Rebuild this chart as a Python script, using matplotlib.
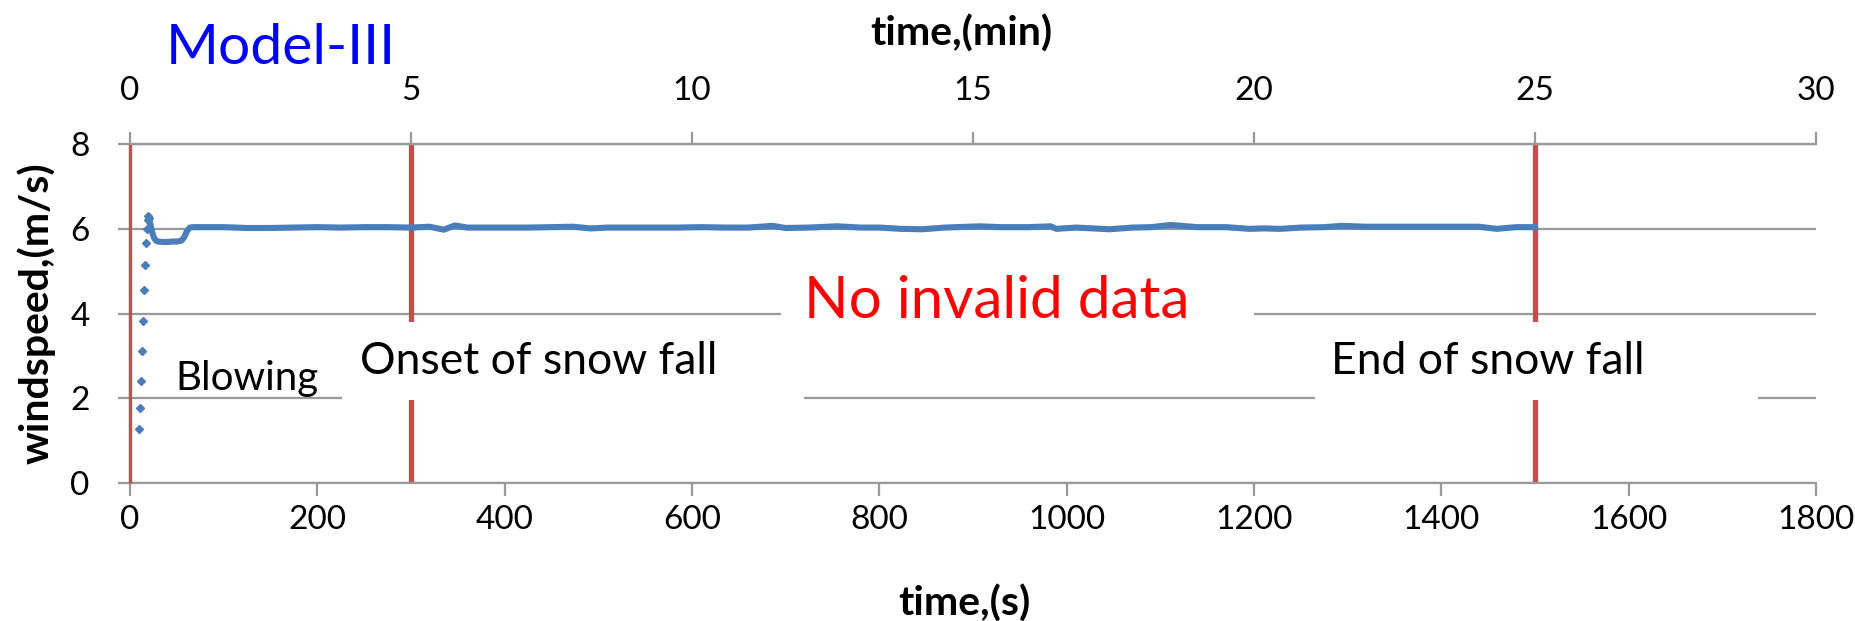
import matplotlib

matplotlib.use("Agg")
import matplotlib.pyplot as plt
from matplotlib.patches import Rectangle

plt.rcParams["font.family"] = ["Lato", "DejaVu Sans"]

# start-up ramp, single readings (s, m/s)
ramp_time = [10, 11, 12, 13, 14, 15, 16, 17, 18, 19, 19.5, 20]
ramp_speed = [1.27, 1.77, 2.41, 3.11, 3.82, 4.55, 5.14, 5.66, 5.99, 6.20, 6.30, 6.25]

# steady run after the ramp
run_time = [20, 22, 24, 26, 28, 30, 35, 40, 45, 50, 55, 58, 61, 64, 68,
            75, 100, 125, 150, 175, 200, 225, 250, 275, 300, 320, 335, 347, 360,
            380, 400, 425, 450, 473, 492, 510, 535, 560, 585, 610, 635, 660, 686,
            700, 725, 755, 780, 800, 823, 846, 870, 907, 930, 960, 983, 989, 1010,
            1046, 1070, 1090, 1111, 1140, 1170, 1195, 1211, 1228, 1250, 1275, 1294,
            1320, 1350, 1380, 1410, 1440, 1459, 1480, 1500]
run_speed = [6.25, 6.10, 5.90, 5.78, 5.72, 5.70, 5.69, 5.69, 5.70, 5.70, 5.72, 5.80, 5.95, 6.03, 6.04,
             6.04, 6.04, 6.02, 6.02, 6.03, 6.04, 6.03, 6.04, 6.04, 6.03, 6.05, 5.98, 6.08, 6.03,
             6.03, 6.03, 6.03, 6.04, 6.05, 6.01, 6.03, 6.03, 6.03, 6.03, 6.04, 6.03, 6.03, 6.07,
             6.02, 6.03, 6.06, 6.03, 6.03, 6.00, 5.99, 6.03, 6.06, 6.04, 6.04, 6.06, 6.00, 6.03,
             5.99, 6.03, 6.04, 6.09, 6.04, 6.04, 6.00, 6.01, 6.00, 6.03, 6.04, 6.07,
             6.05, 6.05, 6.05, 6.05, 6.05, 6.00, 6.04, 6.04]

# event markers (s)
blow_start = 0
snow_events = [300, 1500]

x_ticks = [0, 200, 400, 600, 800, 1000, 1200, 1400, 1600, 1800]
y_ticks = [0, 2, 4, 6, 8]
min_ticks = [0, 5, 10, 15, 20, 25, 30]

BLUE = "#4A7EBB"
RED = "#C0504D"
GRID = "#999999"

fig = plt.figure(figsize=(18.55, 6.21), dpi=100)
ax = fig.add_axes([0.070, 0.222, 0.909, 0.546])

ax.set_xlim(0, 1800)
ax.set_ylim(0, 8)
ax.set_xticks(x_ticks)
ax.set_yticks(y_ticks)
for yv in y_ticks:
    ax.axhline(yv, color=GRID, lw=1.6, zorder=0.5)

# vertical event lines
ax.plot([blow_start, blow_start], [0, 8], color=RED, lw=2.4, zorder=3, solid_capstyle="butt", clip_on=False)
for ev in snow_events:
    ax.plot([ev, ev], [0, 8], color=RED, lw=3.8, zorder=2, solid_capstyle="butt")

# white text boxes hiding the grid behind them
for x0, x1, y0, y1 in [(227, 720, 1.96, 3.80), (695, 1200, 3.86, 4.75), (1265, 1738, 1.96, 3.80)]:
    ax.add_patch(Rectangle((x0, y0), x1 - x0, y1 - y0, facecolor="white", edgecolor="none", zorder=3))

ax.text(125, 2.46, "Blowing", fontsize=29, ha="center", va="center", zorder=4)
ax.text(436, 2.88, "Onset of snow fall", fontsize=32, ha="center", va="center", zorder=4)
ax.text(1450, 2.88, "End of snow fall", fontsize=32, ha="center", va="center", zorder=4)
ax.text(925, 4.28, "No invalid data", fontsize=42, color="#FF0000", ha="center", va="center", zorder=4)

ax.plot(run_time, run_speed, color=BLUE, lw=4.4, zorder=5, solid_joinstyle="round")
ax.plot(ramp_time, ramp_speed, ls="none", marker="D", ms=4.5, color=BLUE, zorder=5)

ax.spines["right"].set_visible(False)
for side in ("left", "bottom", "top"):
    ax.spines[side].set_color(GRID)
    ax.spines[side].set_linewidth(1.6)
ax.tick_params(axis="x", direction="out", length=9, width=1.6, color=GRID, labelsize=24, pad=7)
ax.tick_params(axis="y", direction="out", length=9, width=1.6, color=GRID, labelsize=24, pad=20)

ax.set_xlabel("time,(s)", fontsize=29.5, fontweight="bold")
ax.xaxis.set_label_coords(0.495, -0.30)
ax.set_ylabel("windspeed,(m/s)", fontsize=29.5, fontweight="bold")
ax.yaxis.set_label_coords(-0.044, 0.5)

top = ax.twiny()
top.set_xlim(0, 30)
top.set_xticks(min_ticks)
top.spines["right"].set_visible(False)
top.spines["top"].set_color(GRID)
top.spines["top"].set_linewidth(1.6)
top.spines["bottom"].set_visible(False)
top.spines["left"].set_visible(False)
top.tick_params(axis="x", direction="out", length=9, width=1.6, color=GRID, labelsize=24, pad=18.5)
top.set_xlabel("time,(min)", fontsize=29.5, fontweight="bold")
top.xaxis.set_label_coords(0.493, 1.29)

fig.text(0.0895, 0.922, "Model-III", fontsize=41, color="#0000FF", ha="left", va="center")

fig.savefig("out.png", dpi=100)
plt.close(fig)
